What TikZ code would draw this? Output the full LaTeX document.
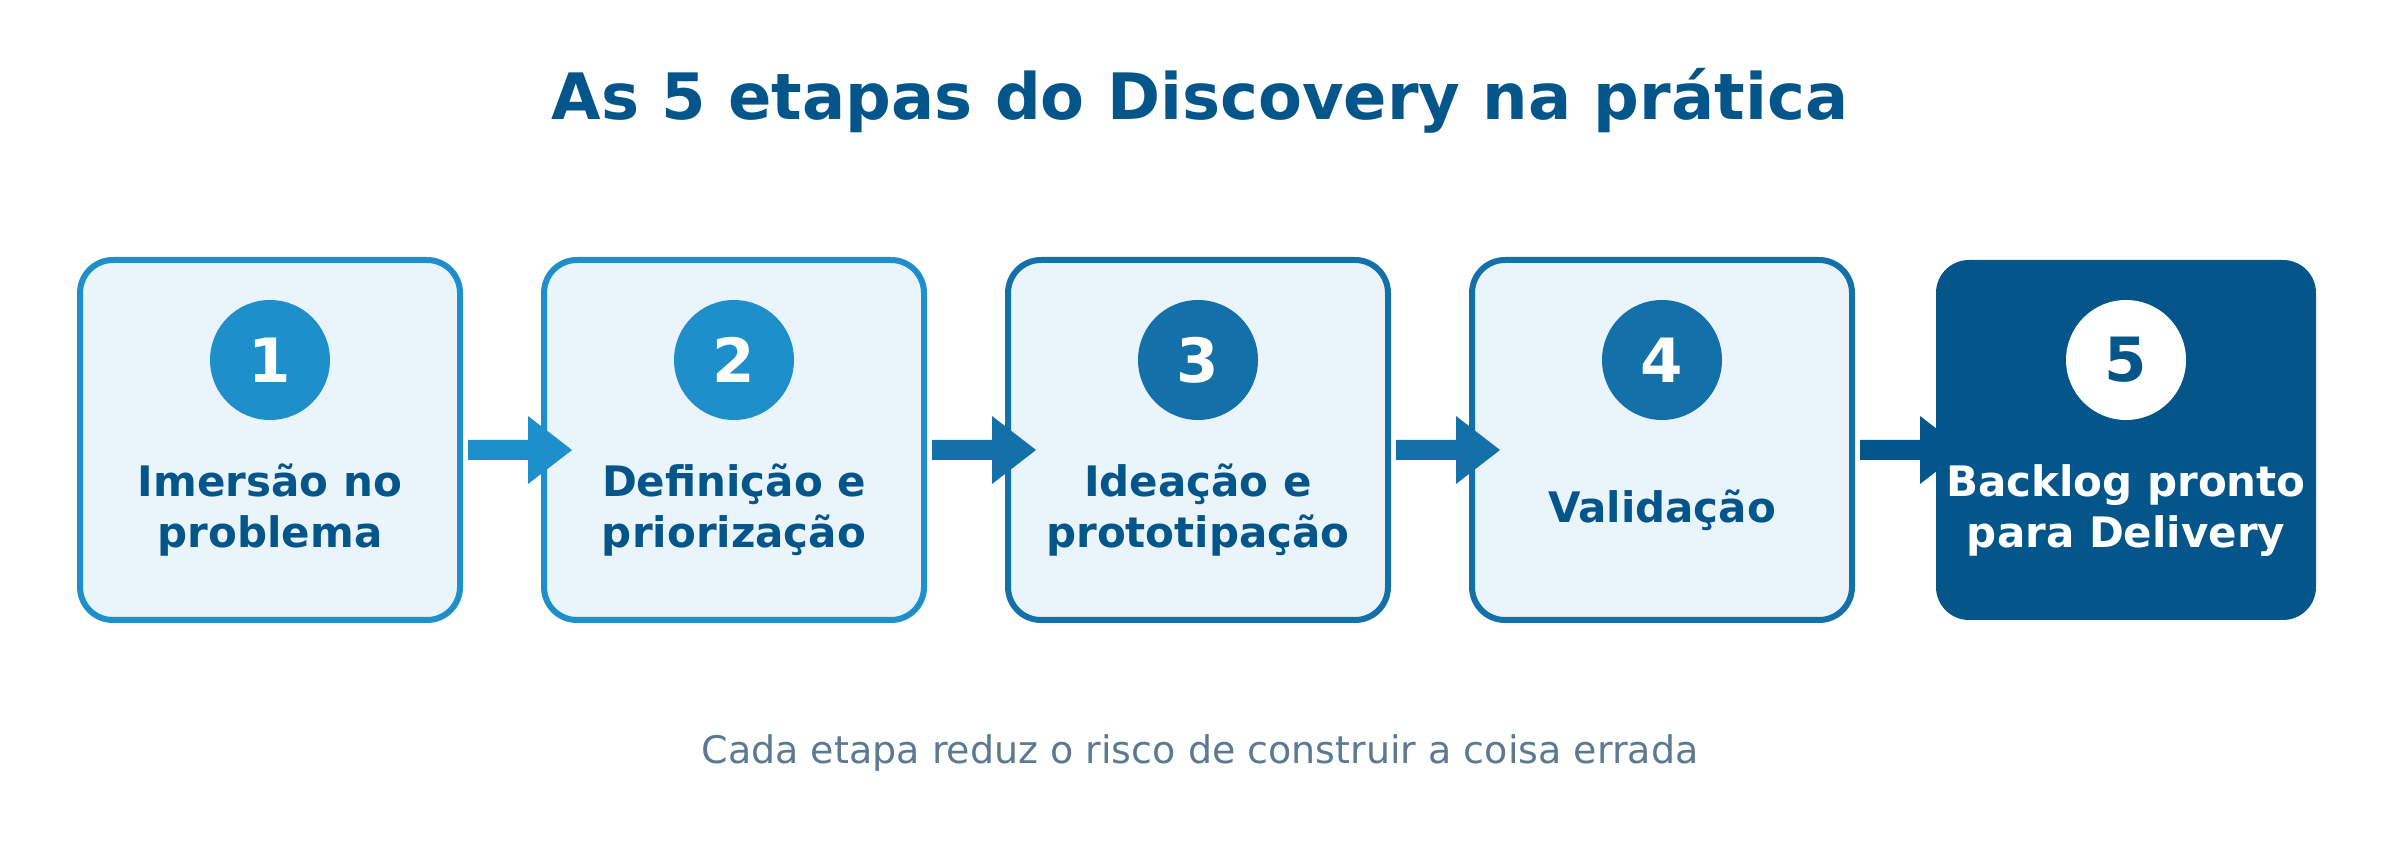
\documentclass[tikz,border=0pt]{standalone}
\usepackage{fontspec}
\setmainfont{DejaVu Sans}
\usetikzlibrary{calc}
\definecolor{cLight}{HTML}{1E8FCB}
\definecolor{cMid}{HTML}{1470A8}
\definecolor{cDark}{HTML}{04558A}
\definecolor{cFill}{HTML}{E9F4FB}
\definecolor{cSub}{HTML}{5B7A92}
\tikzset{
  stepbox/.style={draw=#1, fill=cFill, line width=3pt, rounded corners=16.5pt,
    minimum width=190pt, minimum height=180pt, outer sep=0pt, inner sep=0pt},
  lastbox/.style={fill=cDark, rounded corners=16.5pt,
    minimum width=190pt, minimum height=180pt, outer sep=0pt, inner sep=0pt},
  numdisc/.style={circle, fill=#1, text=white, minimum size=60pt, inner sep=0pt,
    font=\bfseries\fontsize{30.5}{36}\selectfont},
  steplabel/.style={anchor=base, align=center, text=cDark, inner sep=0pt,
    font=\bfseries\fontsize{21}{25.5}\selectfont},
  flowarrow/.style={fill=#1},
}
\newcommand{\flowarr}[2]{%
  \fill[flowarrow=#2] ($(#1.east)+(8,0)$) -- ++(60,0) -- ++(0,-24) -- ++(44,34)
    -- ++(-44,34) -- ++(0,-24) -- ++(-60,0) -- cycle;}
\begin{document}
\begin{tikzpicture}[x=0.5pt,y=-0.5pt]
\useasboundingbox (0,0) rectangle (2400,860);
\fill[white] (0,0) rectangle (2400,860);

\node[anchor=base, text=cDark, font=\bfseries\fontsize{32}{38}\selectfont] (title) at (1200,120) {As 5 etapas do Discovery na prática};

\node[stepbox=cLight] (b1) at (270,440) {};
\node[stepbox=cLight] (b2) at (734,440) {};
\node[stepbox=cMid] (b3) at (1198,440) {};
\node[stepbox=cMid] (b4) at (1662,440) {};
\node[lastbox] (b5) at (2126,440) {};

\node[numdisc=cLight] (n1) at (270,360) {1};
\node[numdisc=cLight] (n2) at (734,360) {2};
\node[numdisc=cMid] (n3) at (1198,360) {3};
\node[numdisc=cMid] (n4) at (1662,360) {4};
\node[numdisc=white, text=cDark] (n5) at (2126,360) {5};

\node[steplabel] (l1) at (270,548) {Imersão no\\problema};
\node[steplabel] (l2) at (734,548) {Definição e\\priorização};
\node[steplabel] (l3) at (1198,548) {Ideação e\\prototipação};
\node[steplabel] (l4) at (1662,523) {Validação};
\node[steplabel, text=white] (l5) at (2126,548) {Backlog pronto\\para Delivery};

\flowarr{b1}{cLight}
\flowarr{b2}{cMid}
\flowarr{b3}{cMid}
\flowarr{b4}{cDark}

\node[anchor=base, text=cSub, font=\fontsize{19}{23}\selectfont] (sub) at (1200,763) {Cada etapa reduz o risco de construir a coisa errada};
\end{tikzpicture}
\end{document}
